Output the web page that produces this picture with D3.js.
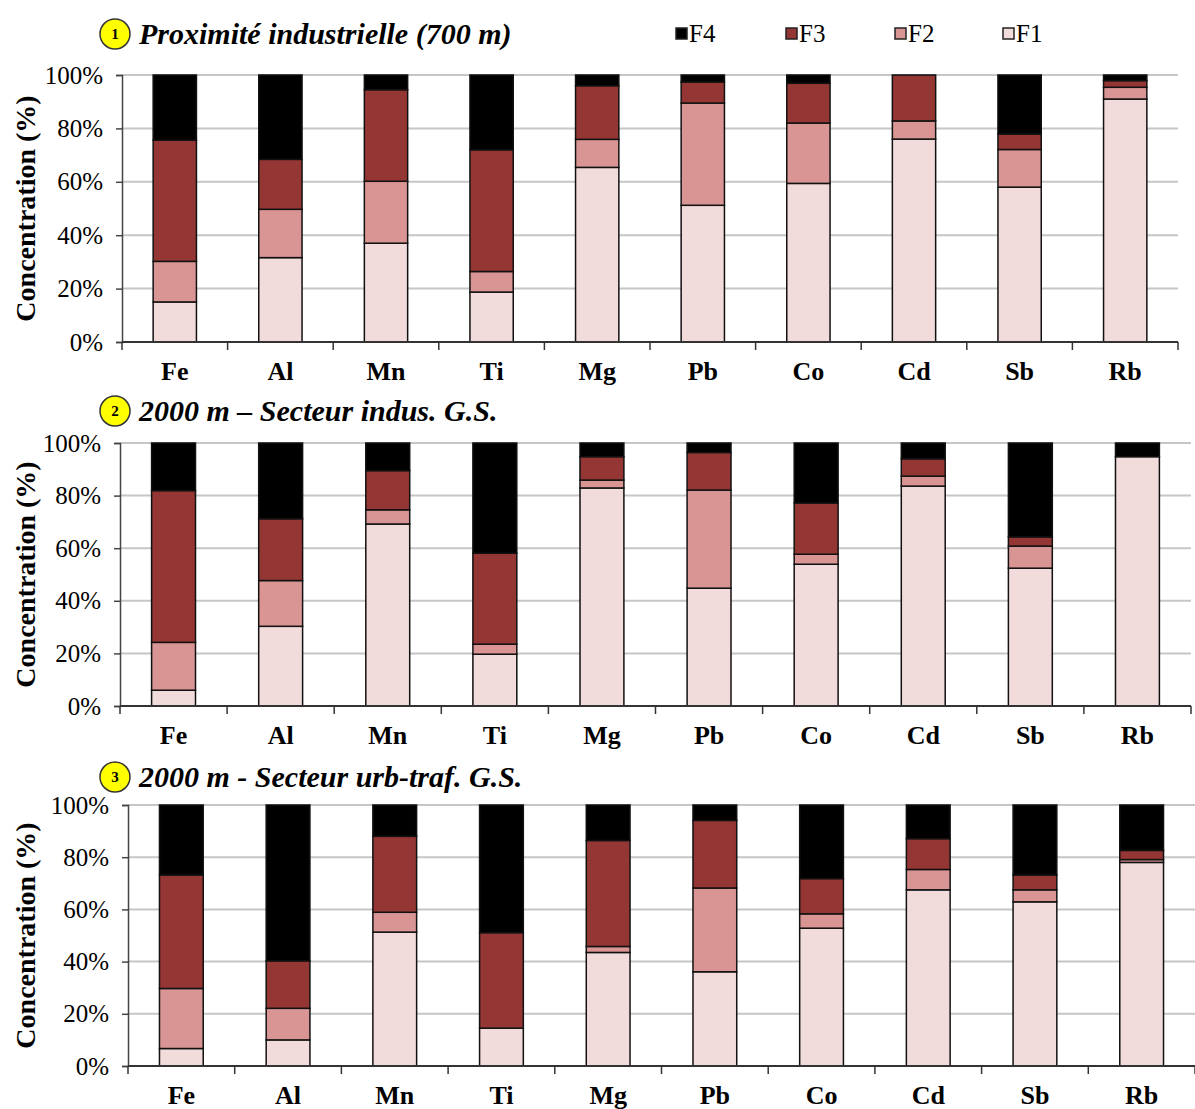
<!DOCTYPE html>
<html>
<head>
<meta charset="utf-8">
<script src="https://cdn.jsdelivr.net/npm/d3@7"></script>
<style>
  html, body { margin: 0; padding: 0; background: #fff; }
  svg { display: block; }
  text { font-family: "Times New Roman", "Liberation Serif", serif; }
</style>
</head>
<body>
<div id="chart"></div>
<script>
const categories = ['Fe', 'Al', 'Mn', 'Ti', 'Mg', 'Pb', 'Co', 'Cd', 'Sb', 'Rb'];
const fractions = ['F1', 'F2', 'F3', 'F4'];
const legendOrder = ['F4', 'F3', 'F2', 'F1'];
const yTicks = [0, 20, 40, 60, 80, 100];
const panelNumbers = ['1', '2', '3'];
const panelTitles = ['Proximité industrielle (700 m)', '2000 m – Secteur indus. G.S.', '2000 m - Secteur urb-traf. G.S.'];

// panel 1 : Proximité industrielle (700 m)
const p1F1 = [15, 31.6, 37, 18.7, 65.4, 51.2, 59.4, 76, 58, 91];
const p1F2 = [15.2, 18.1, 23.2, 7.7, 10.5, 38.3, 22.6, 6.8, 14.1, 4.4];
const p1F3 = [45.4, 18.7, 34.3, 45.6, 20.1, 7.9, 14.9, 17.2, 5.8, 2.5];
const p1F4 = [24.4, 31.6, 5.5, 28, 4, 2.6, 3.1, 0, 22.1, 2.1];

// panel 2 : 2000 m – Secteur indus.
const p2F1 = [6, 30.3, 69.2, 19.7, 82.9, 44.8, 53.9, 83.6, 52.4, 94.8];
const p2F2 = [18.2, 17.4, 5.4, 3.8, 3, 37.3, 3.8, 3.8, 8.4, 0];
const p2F3 = [57.7, 23.5, 14.9, 34.6, 8.9, 14.3, 19.5, 6.6, 3.5, 0];
const p2F4 = [18.1, 28.8, 10.5, 41.9, 5.2, 3.6, 22.8, 6, 35.7, 5.2];

// panel 3 : 2000 m - Secteur urb-traf.
const p3F1 = [6.7, 10, 51.3, 14.5, 43.5, 36.1, 52.8, 67.5, 62.9, 78];
const p3F2 = [23, 12.1, 7.6, 0, 2.3, 32.1, 5.5, 7.8, 4.6, 1.1];
const p3F3 = [43.5, 18.2, 29.1, 36.6, 40.6, 25.9, 13.5, 11.8, 5.7, 3.5];
const p3F4 = [26.8, 59.7, 12, 48.9, 13.6, 5.9, 28.2, 12.9, 26.8, 17.4];

const COLORS = { F1: '#f2dcdb', F2: '#d99594', F3: '#943634', F4: '#000000' };

const panelSeries = [
  [p1F1, p1F2, p1F3, p1F4],
  [p2F1, p2F2, p2F3, p2F4],
  [p3F1, p3F2, p3F3, p3F4],
];

// layout of each panel (pixels)
const layouts = [
  { top: 75, bottom: 342, left: 122, right: 1178, titleY: 44 },
  { top: 443, bottom: 706, left: 120, right: 1191, titleY: 421 },
  { top: 805, bottom: 1066, left: 128, right: 1195, titleY: 787 },
];

const W = 1195, H = 1109;
const svg = d3.select('#chart').append('svg')
  .attr('width', W)
  .attr('height', H);

panelSeries.forEach((series, p) => {
  const L = layouts[p];
  const rows = categories.map((c, i) => {
    const r = { cat: c };
    fractions.forEach((f, k) => { r[f] = series[k][i]; });
    return r;
  });
  const stacked = d3.stack().keys(fractions)(rows);

  const x = d3.scaleBand().domain(categories).range([L.left, L.right]).padding(0);
  const y = d3.scaleLinear().domain([0, 100]).range([L.bottom, L.top]);
  const g = svg.append('g');

  // gridlines
  g.selectAll('.grid')
    .data(yTicks.filter(t => t > 0))
    .join('line')
    .attr('x1', L.left).attr('x2', L.right)
    .attr('y1', d => y(d)).attr('y2', d => y(d))
    .attr('stroke', '#c6c6c6')
    .attr('stroke-width', 2);

  // bars
  const bw = x.bandwidth() * 0.41;
  const off = (x.bandwidth() - bw) / 2;
  stacked.forEach(layer => {
    g.selectAll(null)
      .data(layer.filter(d => d[1] - d[0] > 0))
      .join('rect')
      .attr('x', d => x(d.data.cat) + off)
      .attr('y', d => y(d[1]))
      .attr('width', bw)
      .attr('height', d => y(d[0]) - y(d[1]))
      .attr('fill', COLORS[layer.key])
      .attr('stroke', '#111')
      .attr('stroke-width', 1.5);
  });

  // y axis
  const yAxis = g.append('g')
    .attr('transform', `translate(${L.left},0)`)
    .call(d3.axisLeft(y).tickValues(yTicks).tickFormat(d => d + '%').tickSize(6).tickPadding(13));
  yAxis.select('.domain').attr('stroke', '#444').attr('stroke-width', 1.5);
  yAxis.selectAll('.tick line').attr('stroke', '#444').attr('stroke-width', 1.5);
  yAxis.selectAll('.tick text')
    .attr('font-family', '"Times New Roman", "Liberation Serif", serif')
    .attr('font-size', 25)
    .attr('fill', '#000');

  // x axis line and ticks at band edges
  g.append('line')
    .attr('x1', L.left).attr('x2', L.right)
    .attr('y1', L.bottom).attr('y2', L.bottom)
    .attr('stroke', '#333').attr('stroke-width', 2);
  const edges = categories.map(c => x(c)).concat([x.range()[1]]);
  g.selectAll(null)
    .data(edges)
    .join('line')
    .attr('x1', d => d).attr('x2', d => d)
    .attr('y1', L.bottom).attr('y2', L.bottom + 8)
    .attr('stroke', '#333').attr('stroke-width', 1.5);

  g.selectAll(null)
    .data(categories)
    .join('text')
    .attr('x', d => x(d) + x.bandwidth() / 2)
    .attr('y', L.bottom + 38)
    .attr('text-anchor', 'middle')
    .attr('font-size', 26)
    .attr('font-weight', 'bold')
    .attr('fill', '#000')
    .text(d => d);

  // y label
  g.append('text')
    .attr('transform', `translate(35,${(L.top + L.bottom) / 2}) rotate(-90)`)
    .attr('text-anchor', 'middle')
    .attr('font-size', 28)
    .attr('font-weight', 'bold')
    .attr('fill', '#000')
    .text('Concentration (%)');

  // title with numbered yellow badge
  g.append('circle')
    .attr('cx', 115).attr('cy', L.titleY - 10)
    .attr('r', 15)
    .attr('fill', '#ffff00')
    .attr('stroke', '#333')
    .attr('stroke-width', 1.5);
  g.append('text')
    .attr('x', 115).attr('y', L.titleY - 5)
    .attr('text-anchor', 'middle')
    .attr('font-size', 15)
    .attr('font-weight', 'bold')
    .attr('fill', '#000')
    .text(panelNumbers[p]);
  g.append('text')
    .attr('x', 139).attr('y', L.titleY)
    .attr('font-size', 30)
    .attr('font-weight', 'bold')
    .attr('font-style', 'italic')
    .attr('fill', '#000')
    .text(panelTitles[p]);
});

// legend
const legendX = [676, 786, 895, 1003];
const legend = svg.append('g');
legendOrder.forEach((f, i) => {
  legend.append('rect')
    .attr('x', legendX[i]).attr('y', 28)
    .attr('width', 11).attr('height', 11)
    .attr('fill', COLORS[f])
    .attr('stroke', '#222')
    .attr('stroke-width', 1.5);
  legend.append('text')
    .attr('x', legendX[i] + 13).attr('y', 42)
    .attr('font-size', 25)
    .attr('fill', '#000')
    .text(f);
});
</script>
</body>
</html>
